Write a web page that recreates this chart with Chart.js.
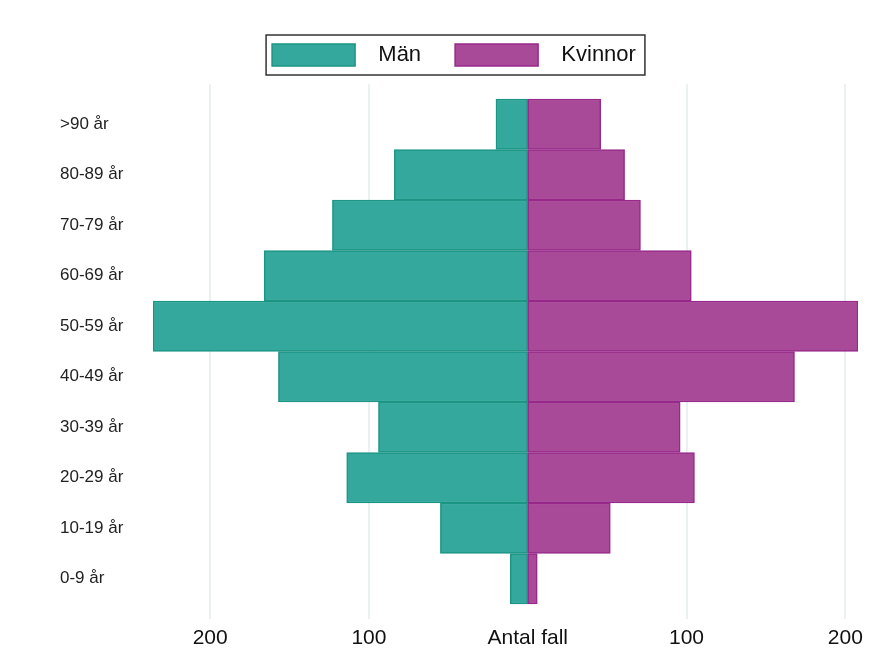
<!DOCTYPE html>
<html>
<head>
<meta charset="utf-8">
<script src="https://cdn.jsdelivr.net/npm/chart.js@4.4.1/dist/chart.umd.min.js"></script>
<style>
  html, body { margin: 0; padding: 0; background: #fff; }
  #wrap { width: 880px; height: 648px; }
</style>
</head>
<body>
<div id="wrap"><canvas id="pyramid" width="880" height="648"></canvas></div>
<script>
// Age groups, top to bottom
const ageGroups = ['>90 år', '80-89 år', '70-79 år', '60-69 år', '50-59 år',
                   '40-49 år', '30-39 år', '20-29 år', '10-19 år', '0-9 år'];
const menCases = [20, 84, 123, 166, 236, 157, 94, 114, 55, 11];
const womenCases = [46, 61, 71, 103, 208, 168, 96, 105, 52, 6];
const xTickValues = [-200, -100, 0, 100, 200];
const zeroLabel = 'Antal fall';

const FONT = "'Liberation Sans', Arial, sans-serif";

// frame round the legend + nudge the age labels to the right
const legendFrame = {
  id: 'legendFrame',
  afterLayout(chart) {
    chart.scales.y.left += 10;
  },
  afterDraw(chart) {
    const boxes = chart.legend && chart.legend.legendHitBoxes;
    if (!boxes || !boxes.length) return;
    const first = boxes[0];
    const last = boxes[boxes.length - 1];
    const ctx = chart.ctx;
    ctx.save();
    ctx.strokeStyle = '#333';
    ctx.lineWidth = 1.5;
    ctx.strokeRect(first.left - 6, first.top - 9,
      last.left + last.width - first.left + 15, first.height + 18);
    ctx.restore();
  }
};

const ctx = document.getElementById('pyramid').getContext('2d');
new Chart(ctx, {
  type: 'bar',
  data: {
    datasets: [
      {
        label: '  Män',
        data: menCases.map((v, i) => ({ x: -v, y: i })),
        backgroundColor: '#34a89c',
        borderColor: '#1b9584',
        borderWidth: 1.5,
        borderSkipped: false,
        barPercentage: 1,
        categoryPercentage: 1
      },
      {
        label: '  Kvinnor',
        data: womenCases.map((v, i) => ({ x: v, y: i })),
        backgroundColor: '#a84a98',
        borderColor: '#98288a',
        borderWidth: 1.5,
        borderSkipped: false,
        barPercentage: 1,
        categoryPercentage: 1
      }
    ]
  },
  options: {
    indexAxis: 'y',
    responsive: false,
    animation: false,
    layout: { padding: { left: 50, right: 22, top: 10, bottom: 0 } },
    plugins: {
      tooltip: { enabled: false },
      legend: {
        position: 'top',
        align: 'center',
        labels: {
          boxWidth: 83,
          boxHeight: 22,
          padding: 34,
          color: '#111',
          font: { family: FONT, size: 22 }
        }
      },
      // empty subtitle used as a gap between legend and plot
      subtitle: {
        display: true,
        text: '',
        weight: 500,
        padding: 0,
        font: { size: 8, lineHeight: 1 }
      }
    },
    scales: {
      x: {
        type: 'linear',
        stacked: true,
        min: -236,
        max: 208,
        afterBuildTicks: scale => {
          scale.ticks = xTickValues.map(v => ({ value: v }));
        },
        afterFit: scale => { scale.height = 29; },
        grid: {
          color: '#e9f1f1',
          lineWidth: c => (c.tick && c.tick.value === 0) ? 0 : 2,
          drawTicks: false
        },
        border: { display: false },
        ticks: {
          padding: 7,
          color: '#111',
          font: { family: FONT, size: 21 },
          maxRotation: 0,
          callback: v => v === 0 ? zeroLabel : Math.abs(v)
        }
      },
      y: {
        type: 'linear',
        stacked: true,
        reverse: true,
        offset: false,
        min: -0.797,
        max: ageGroups.length - 1 + 0.797,
        afterBuildTicks: scale => {
          scale.ticks = ageGroups.map((_, i) => ({ value: i }));
        },
        afterFit: scale => { scale.width = 103; },
        grid: { display: false, offset: false },
        border: { display: false },
        ticks: {
          crossAlign: 'far',
          padding: 0,
          color: '#222',
          font: { family: FONT, size: 17 },
          callback: v => ageGroups[v]
        }
      }
    }
  },
  plugins: [legendFrame]
});
</script>
</body>
</html>
